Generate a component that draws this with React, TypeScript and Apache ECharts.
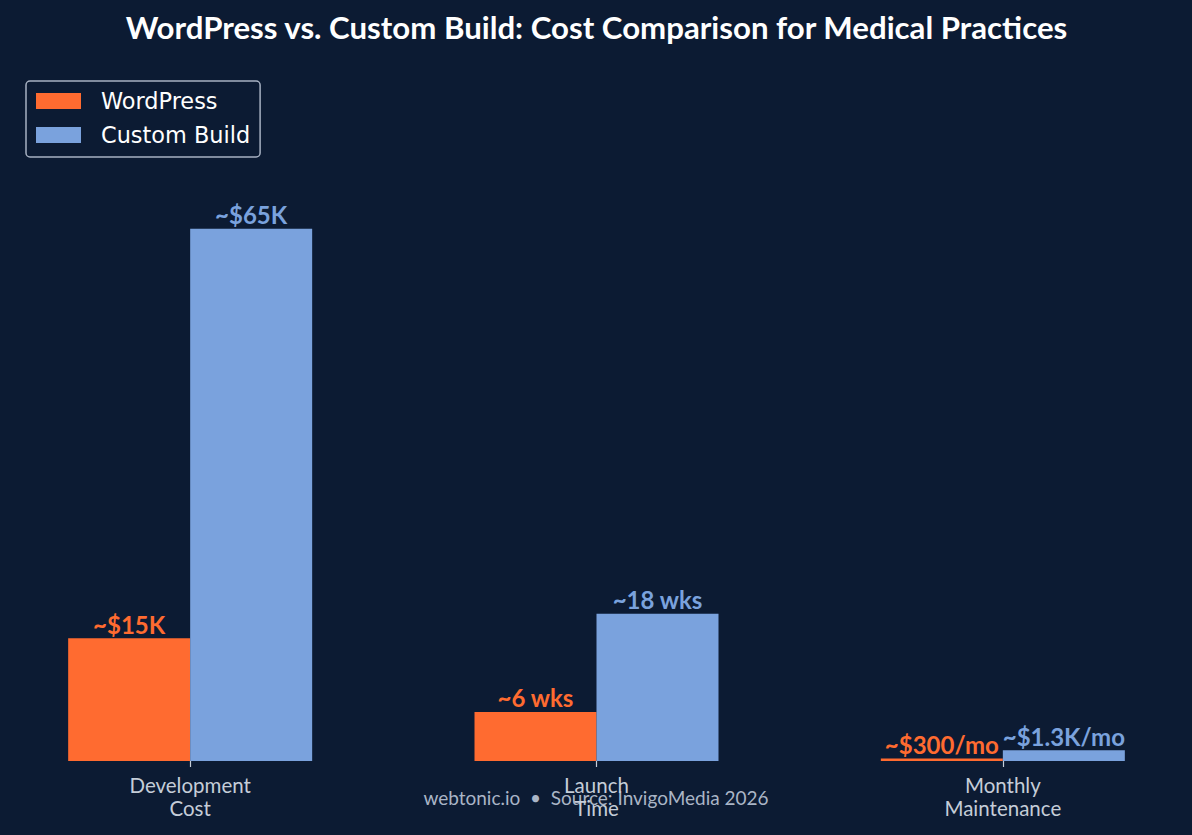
import React, { useEffect, useRef } from "react";
import * as echarts from "echarts";

const categories = ["Development\nCost", "Launch\nTime", "Monthly\nMaintenance"];
const wordpressValues = [15, 6, 0.3];
const customValues = [65, 18, 1.3];
const wordpressLabels = ["~$15K", "~6 wks", "~$300/mo"];
const customLabels = ["~$65K", "~18 wks", "~$1.3K/mo"];

const BG = "#0c1b33";
const ORANGE = "#ff6b30";
const BLUE = "#7aa2dd";
const OFF = 13; // div is shifted left so the category bands can extend past the page edges

export default function App() {
  const ref = useRef<HTMLDivElement>(null);
  useEffect(() => {
    document.body.style.margin = "0";
    document.body.style.background = BG;
    document.body.style.overflow = "hidden";
    const chart = echarts.init(ref.current!, null, { renderer: "svg" });
    chart.setOption({
      animation: false,
      backgroundColor: BG,
      title: {
        text: "WordPress vs. Custom Build: Cost Comparison for Medical Practices",
        left: "center",
        top: 6,
        textStyle: { fontFamily: "Lato", fontWeight: "bold", fontSize: 31.2, color: "#ffffff" },
      },
      legend: {
        left: 26 + OFF,
        top: 81,
        orient: "vertical",
        itemWidth: 45,
        itemHeight: 16,
        itemGap: 12,
        padding: [9, 10, 11, 10],
        borderColor: "#a7b1c2",
        borderWidth: 1.5,
        borderRadius: 4,
        backgroundColor: BG,
        icon: "rect",
        textStyle: {
          fontFamily: "DejaVu Sans",
          fontSize: 22.4,
          lineHeight: 22,
          color: "#ffffff",
          padding: [0, 0, 0, 15],
        },
        data: ["WordPress", "Custom Build"],
      },
      grid: { left: 0, right: 0, top: 149, bottom: 74 },
      xAxis: {
        type: "category",
        data: categories,
        axisLine: { show: false },
        axisTick: { show: true, alignWithLabel: true, length: 6, lineStyle: { color: "#c5cdd8", width: 1.2 } },
        axisLabel: {
          fontFamily: "Lato",
          fontSize: 20.5,
          lineHeight: 23,
          color: "#c5cdd8",
          margin: 12,
        },
      },
      yAxis: { type: "value", min: 0, max: 74.75, show: false, splitLine: { show: false } },
      series: [
        {
          name: "WordPress",
          type: "bar",
          data: wordpressValues,
          barWidth: 122,
          barGap: "0%",
          itemStyle: { color: ORANGE },
          label: {
            show: true,
            position: "top",
            distance: 2,
            formatter: (p: any) => wordpressLabels[p.dataIndex],
            fontFamily: "Lato",
            fontWeight: "bold",
            fontSize: 24,
            color: ORANGE,
          },
        },
        {
          name: "Custom Build",
          type: "bar",
          data: customValues,
          barWidth: 122,
          barGap: "0%",
          itemStyle: { color: BLUE },
          label: {
            show: true,
            position: "top",
            distance: 2,
            formatter: (p: any) => customLabels[p.dataIndex],
            fontFamily: "Lato",
            fontWeight: "bold",
            fontSize: 24,
            color: BLUE,
          },
        },
      ],
      graphic: [
        {
          type: "text",
          x: 596 + OFF,
          y: 797,
          style: {
            text: "webtonic.io  •  Source: InvigoMedia 2026",
            fontFamily: "Lato",
            fontSize: 19,
            fill: "#aab5c6",
            textAlign: "center",
            textVerticalAlign: "middle",
          },
        },
      ],
    });
    return () => chart.dispose();
  }, []);
  return <div ref={ref} style={{ position: "fixed", left: -OFF, top: 0, width: 1219, height: 835 }} />;
}
